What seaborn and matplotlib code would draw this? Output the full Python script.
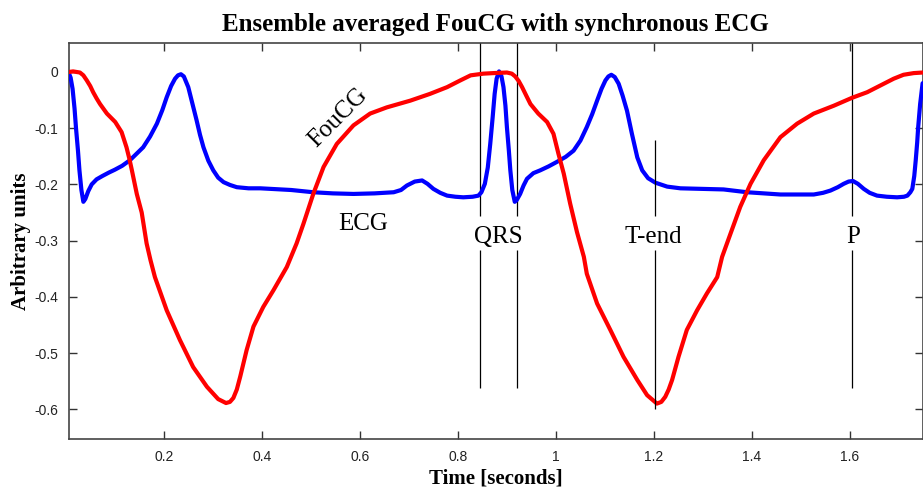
import matplotlib
matplotlib.use("Agg")
import matplotlib.pyplot as plt
import numpy as np
import pandas as pd
import seaborn as sns

# ECG trace (time in seconds, amplitude in arbitrary units)
ecg_t = [0.0067, 0.010, 0.014, 0.018, 0.021, 0.025, 0.028, 0.032, 0.036, 0.040,
         0.046, 0.053, 0.063, 0.075, 0.088, 0.100, 0.115, 0.131, 0.145, 0.158,
         0.172, 0.186, 0.197, 0.206, 0.215, 0.223, 0.229, 0.235, 0.241, 0.250,
         0.258, 0.267, 0.274, 0.281, 0.291, 0.301, 0.311, 0.322, 0.335, 0.349,
         0.373, 0.397, 0.417, 0.460, 0.505, 0.545, 0.587, 0.630, 0.669, 0.684,
         0.696, 0.712, 0.727, 0.738, 0.750, 0.764, 0.778, 0.795, 0.811, 0.830,
         0.842, 0.848, 0.855, 0.861, 0.866, 0.871, 0.875, 0.879, 0.884, 0.889,
         0.893, 0.897, 0.900, 0.904, 0.907, 0.911, 0.916, 0.920, 0.927, 0.934,
         0.941, 0.954, 0.968, 0.985, 1.002, 1.020, 1.036, 1.050, 1.063, 1.074,
         1.084, 1.093, 1.101, 1.107, 1.113, 1.120, 1.128, 1.136, 1.145, 1.155,
         1.166, 1.176, 1.188, 1.203, 1.227, 1.254, 1.300, 1.342, 1.390, 1.425,
         1.458, 1.526, 1.545, 1.560, 1.575, 1.587, 1.597, 1.606, 1.616, 1.628,
         1.640, 1.655, 1.675, 1.696, 1.710, 1.717, 1.723, 1.727, 1.731, 1.734,
         1.737, 1.739, 1.743, 1.748]
ecg_v = [-0.003, -0.010, -0.030, -0.065, -0.100, -0.140, -0.175, -0.210, -0.231, -0.226,
         -0.212, -0.200, -0.191, -0.185, -0.179, -0.174, -0.167, -0.157, -0.145, -0.134,
         -0.115, -0.092, -0.068, -0.045, -0.025, -0.012, -0.006, -0.004, -0.008, -0.027,
         -0.055, -0.086, -0.112, -0.134, -0.158, -0.175, -0.188, -0.196, -0.201, -0.205,
         -0.207, -0.207, -0.208, -0.210, -0.214, -0.216, -0.217, -0.216, -0.214, -0.210,
         -0.202, -0.195, -0.193, -0.199, -0.208, -0.215, -0.220, -0.222, -0.223, -0.222,
         -0.220, -0.214, -0.199, -0.170, -0.128, -0.080, -0.039, -0.012, 0.001, -0.008,
         -0.027, -0.060, -0.098, -0.140, -0.175, -0.210, -0.231, -0.228, -0.217, -0.202,
         -0.190, -0.180, -0.175, -0.168, -0.160, -0.151, -0.140, -0.122, -0.098, -0.075,
         -0.051, -0.030, -0.015, -0.008, -0.005, -0.009, -0.021, -0.042, -0.069, -0.110,
         -0.152, -0.175, -0.189, -0.197, -0.204, -0.207, -0.208, -0.209, -0.214, -0.216,
         -0.218, -0.218, -0.215, -0.211, -0.205, -0.199, -0.195, -0.194, -0.199, -0.208,
         -0.215, -0.220, -0.222, -0.223, -0.222, -0.220, -0.214, -0.208, -0.185, -0.157,
         -0.125, -0.098, -0.057, -0.020]

# Ensemble averaged FouCG trace
foucg_t = [0.0067, 0.015, 0.029, 0.036, 0.043, 0.050, 0.056, 0.063, 0.070, 0.084,
           0.101, 0.114, 0.124, 0.130, 0.135, 0.145, 0.155, 0.165, 0.173, 0.182,
           0.206, 0.233, 0.260, 0.288, 0.311, 0.327, 0.335, 0.342, 0.349, 0.356,
           0.369, 0.383, 0.403, 0.424, 0.451, 0.471, 0.485, 0.505, 0.526, 0.553,
           0.587, 0.621, 0.655, 0.703, 0.743, 0.778, 0.805, 0.826, 0.852, 0.873,
           0.900, 0.910, 0.917, 0.924, 0.931, 0.940, 0.948, 0.964, 0.982, 0.995,
           1.005, 1.016, 1.029, 1.043, 1.057, 1.063, 1.084, 1.111, 1.138, 1.166,
           1.186, 1.206, 1.215, 1.223, 1.230, 1.237, 1.250, 1.267, 1.288, 1.308,
           1.329, 1.339, 1.356, 1.376, 1.397, 1.424, 1.458, 1.492, 1.526, 1.567,
           1.604, 1.635, 1.662, 1.689, 1.709, 1.730, 1.748]
foucg_v = [0.000, 0.001, -0.001, -0.006, -0.015, -0.025, -0.036, -0.047, -0.057, -0.074,
           -0.089, -0.107, -0.134, -0.155, -0.175, -0.217, -0.250, -0.305, -0.335, -0.365,
           -0.424, -0.477, -0.525, -0.560, -0.582, -0.589, -0.587, -0.580, -0.565, -0.542,
           -0.495, -0.453, -0.418, -0.388, -0.347, -0.305, -0.270, -0.217, -0.169, -0.128,
           -0.095, -0.074, -0.063, -0.051, -0.039, -0.027, -0.015, -0.006, -0.003, -0.002,
           -0.001, -0.003, -0.008, -0.016, -0.027, -0.043, -0.057, -0.074, -0.089, -0.110,
           -0.145, -0.181, -0.234, -0.285, -0.329, -0.359, -0.412, -0.459, -0.507, -0.548,
           -0.575, -0.590, -0.587, -0.578, -0.565, -0.548, -0.507, -0.459, -0.424, -0.394,
           -0.365, -0.329, -0.288, -0.240, -0.199, -0.157, -0.116, -0.092, -0.074, -0.060,
           -0.046, -0.036, -0.024, -0.012, -0.005, -0.002, -0.001]

# Fiducial markers
marker_labels = ["QRS", "T-end", "P"]
marker_times = [0.8453, 0.9200, 1.2012, 1.604]

x_ticks = [0.2, 0.4, 0.6, 0.8, 1.0, 1.2, 1.4, 1.6]
x_tick_labels = ["0.2", "0.4", "0.6", "0.8", "1", "1.2", "1.4", "1.6"]
y_ticks = [0, -0.1, -0.2, -0.3, -0.4, -0.5, -0.6]
y_tick_labels = ["0", "-0.1", "-0.2", "-0.3", "-0.4", "-0.5", "-0.6"]

sns.set_style("white")
serif = ["Liberation Serif", "DejaVu Serif"]
sans = ["Liberation Sans", "DejaVu Sans"]
plt.rcParams["font.family"] = sans

fig = plt.figure(figsize=(9.23, 4.90), dpi=100)
ax = fig.add_axes([69 / 923, 1 - 439 / 490, (922.6 - 69) / 923, (439 - 43.3) / 490])

ecg_df = pd.DataFrame({"t": ecg_t, "v": ecg_v})
fou_df = pd.DataFrame({"t": foucg_t, "v": foucg_v})
sns.lineplot(data=ecg_df, x="t", y="v", ax=ax, color="#0000ff", lw=3.0,
             sort=False, estimator=None, zorder=3)
sns.lineplot(data=fou_df, x="t", y="v", ax=ax, color="#ff0000", lw=3.0,
             sort=False, estimator=None, zorder=4)

# Vertical marker lines, broken where the labels sit
gap_top, gap_bot = -0.257, -0.316
ax.vlines([marker_times[0], marker_times[1], marker_times[3]], gap_top, 0.06,
          color="black", lw=0.9, zorder=2)
ax.vlines([marker_times[0], marker_times[1], marker_times[3]], -0.562, gap_bot,
          color="black", lw=0.9, zorder=2)
ax.vlines(marker_times[2], gap_top, -0.121, color="black", lw=0.9, zorder=5)
ax.vlines(marker_times[2], -0.600, gap_bot, color="black", lw=0.9, zorder=5)

lab_kw = dict(family=serif, fontsize=18, ha="center", va="baseline", color="black")
ax.text((marker_times[0] + marker_times[1]) / 2, -0.305, marker_labels[0], **lab_kw)
ax.text(marker_times[2] - 0.003, -0.304, marker_labels[1], **lab_kw)
ax.text(marker_times[3] + 0.003, -0.304, marker_labels[2], **lab_kw)
ax.text(0.606, -0.282, "ECG", **lab_kw)
ax.text(0.556, -0.081, "FouCG", family=serif, fontsize=18, ha="center",
        va="center", rotation=45, rotation_mode="anchor", color="black")

ax.set_xlim(0.0067, 1.748)
ax.set_ylim(-0.653, 0.051)
ax.set_xticks(x_ticks)
ax.set_xticklabels(x_tick_labels)
ax.set_yticks(y_ticks)
ax.set_yticklabels(y_tick_labels)
ax.tick_params(direction="in", length=6, width=1.0, color="#333333",
               labelcolor="#222222", labelsize=10, pad=8,
               top=True, right=True, bottom=True, left=True)
for s in ax.spines.values():
    s.set_visible(True)
    s.set_color("#444444")
    s.set_linewidth(1.2)

ax.set_title("Ensemble averaged FouCG with synchronous ECG", family=serif,
             fontweight="bold", fontsize=18, pad=9, color="black")
ax.set_xlabel("Time [seconds]", family=serif, fontweight="bold", fontsize=15,
              labelpad=3, color="black")
ax.set_ylabel("Arbitrary units", family=serif, fontweight="bold", fontsize=15,
              labelpad=2, color="black")

fig.savefig("out.png", dpi=100)
